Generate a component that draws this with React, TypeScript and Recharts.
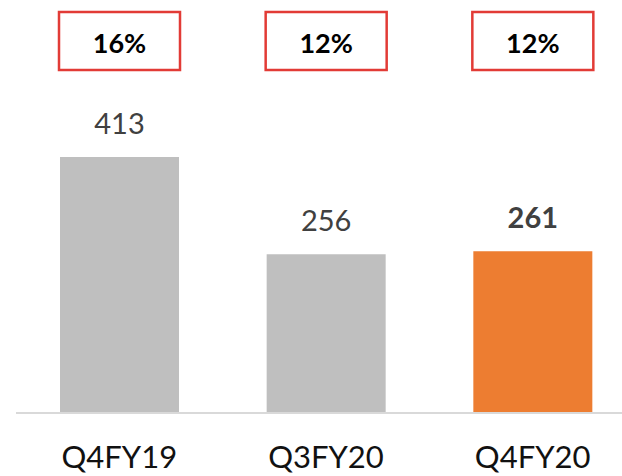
import React from 'react';
import { BarChart, Bar, XAxis, YAxis, Cell, LabelList } from 'recharts';

const categories = ['Q4FY19', 'Q3FY20', 'Q4FY20'];
const values = [413, 256, 261];
const margins = ['16%', '12%', '12%'];
const highlight = [false, false, true];

const data = categories.map((c, i) => ({ name: c, value: values[i], margin: margins[i], hl: highlight[i] }));

const FONT = 'Lato, "Liberation Sans", sans-serif';
const GRAY = '#BFBFBF';
const ORANGE = '#ED7D31';
const RED = '#E23B36';

const ValueLabel = (props: any) => {
  const { x, y, width, value, index } = props;
  const bold = highlight[index];
  return (
    <text
      x={x + width / 2}
      y={y - 23}
      textAnchor="middle"
      fontFamily={FONT}
      fontSize={29}
      fontWeight={bold ? 700 : 400}
      fill="#404040"
    >
      {value}
    </text>
  );
};

const BoxLabel = (props: any) => {
  const { x, width, value } = props;
  const cx = x + width / 2;
  const bw = 121;
  const bh = 58;
  return (
    <g>
      <rect x={cx - bw / 2} y={12} width={bw} height={bh} fill="#FFFFFF" stroke={RED} strokeWidth={2.5} />
      <text
        x={cx}
        y={42}
        textAnchor="middle"
        dominantBaseline="central"
        fontFamily={FONT}
        fontSize={27}
        fontWeight={700}
        fill="#000000"
      >
        {value}
      </text>
    </g>
  );
};

const Tick = (props: any) => {
  const { x, y, payload } = props;
  return (
    <text x={x} y={y + 55} textAnchor="middle" fontFamily={FONT} fontSize={31} fill="#111111">
      {payload.value}
    </text>
  );
};

export default function App() {
  return (
    <div style={{ position: 'absolute', left: 0, top: 0, width: 622, height: 476, overflow: 'hidden', background: '#fff' }}>
      <BarChart width={640} height={476} data={data} margin={{ top: 41, right: 4, bottom: 0, left: 16 }} barCategoryGap={0}>
        <XAxis
          dataKey="name"
          axisLine={{ stroke: '#D9D9D9', strokeWidth: 2 }}
          tickLine={false}
          tickSize={0}
          tickMargin={0}
          height={63}
          tick={<Tick />}
          interval={0}
        />
        <YAxis hide domain={[0, 600]} />
        <Bar dataKey="value" barSize={119} isAnimationActive={false}>
          {data.map((d, i) => (
            <Cell key={i} fill={d.hl ? ORANGE : GRAY} />
          ))}
          <LabelList dataKey="value" content={<ValueLabel />} />
          <LabelList dataKey="margin" content={<BoxLabel />} />
        </Bar>
      </BarChart>
    </div>
  );
}
